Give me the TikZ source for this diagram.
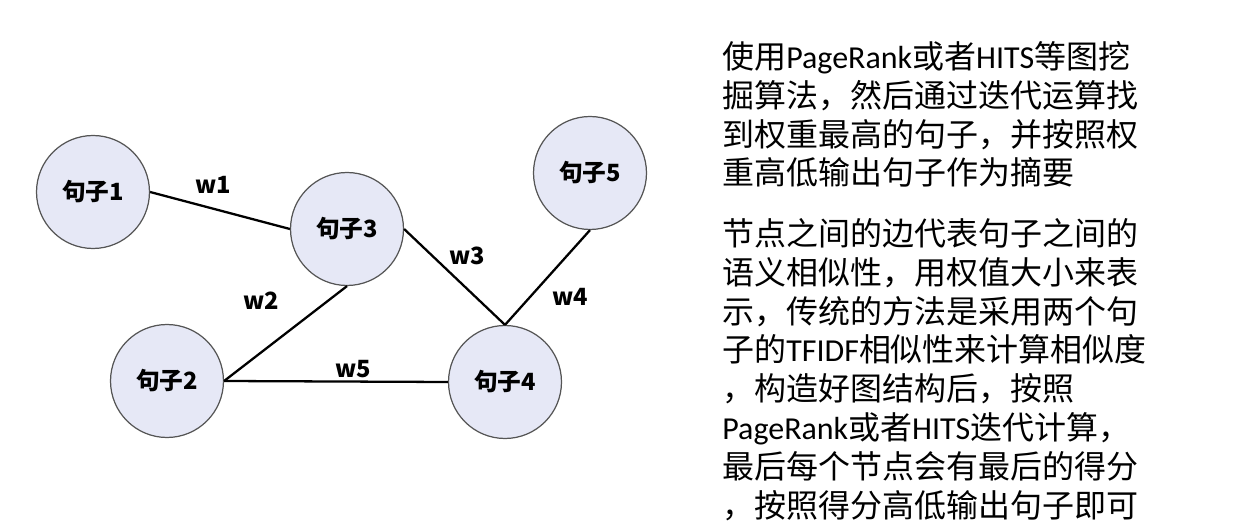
\documentclass[tikz,border=0pt]{standalone}
\usepackage{fontspec}
\usepackage{tikz}
\usetikzlibrary{positioning}
\setmainfont{Noto Sans CJK SC}
\newfontfamily\latinfont{Carlito}
\newcommand{\en}[1]{{\latinfont #1}}
\definecolor{nodefill}{RGB}{230,232,246}
\definecolor{nodeline}{RGB}{85,85,85}

\begin{document}
\begin{tikzpicture}[x=0.02cm, y=-0.02cm,
  sent/.style={circle, draw=nodeline, line width=0.7pt, fill=nodefill, minimum size=2.26cm, inner sep=0pt, font=\fontsize{13.5}{15}\selectfont\bfseries},
  wlabel/.style={font=\fontsize{13.5}{15}\selectfont\bfseries},
  edge/.style={line width=1.3pt},
  para/.style={anchor=north west, align=left, inner sep=0pt, font=\fontsize{18.2}{22.1}\selectfont}]
\useasboundingbox (0,0) rectangle (1234,523);

% 句子节点(座标配置)
\node[sent] (s1) at (93,192)  {句子1};
\node[sent] (s3) at (347,229) {句子3};
\node[sent] (s2) at (167,381) {句子2};
\node[sent] (s4) at (505,382) {句子4};
\node[sent] (s5) at (590,173) {句子5};

% 边
\draw[edge] (s1.east) -- (s3.west);
\draw[edge] (s3.south) -- (s2.east);
\draw[edge] (s3.east) -- (s4.north);
\draw[edge] (s5.south) -- (s4.north);
\draw[edge] (s2.east) -- (s4.west);

% 权重
\node[wlabel] (w1) at (213,185) {w1};
\node[wlabel] (w2) at (261,301) {w2};
\node[wlabel] (w3) at (467,256) {w3};
\node[wlabel] (w4) at (570,297) {w4};
\node[wlabel] (w5) at (353,369) {w5};

% 说明文字
\node[para] (para1) at (722,41) {使用\en{PageRank}或者\en{HITS}等图挖\\
掘算法，然后通过迭代运算找\\
到权重最高的句子，并按照权\\
重高低输出句子作为摘要};
\node[para] (para2) at (722,218) {节点之间的边代表句子之间的\\
语义相似性，用权值大小来表\\
示，传统的方法是采用两个句\\
子的\en{TFIDF}相似性来计算相似度\\
，构造好图结构后，按照\\
\en{PageRank}或者\en{HITS}迭代计算，\\
最后每个节点会有最后的得分\\
，按照得分高低输出句子即可};
\end{tikzpicture}
\end{document}
